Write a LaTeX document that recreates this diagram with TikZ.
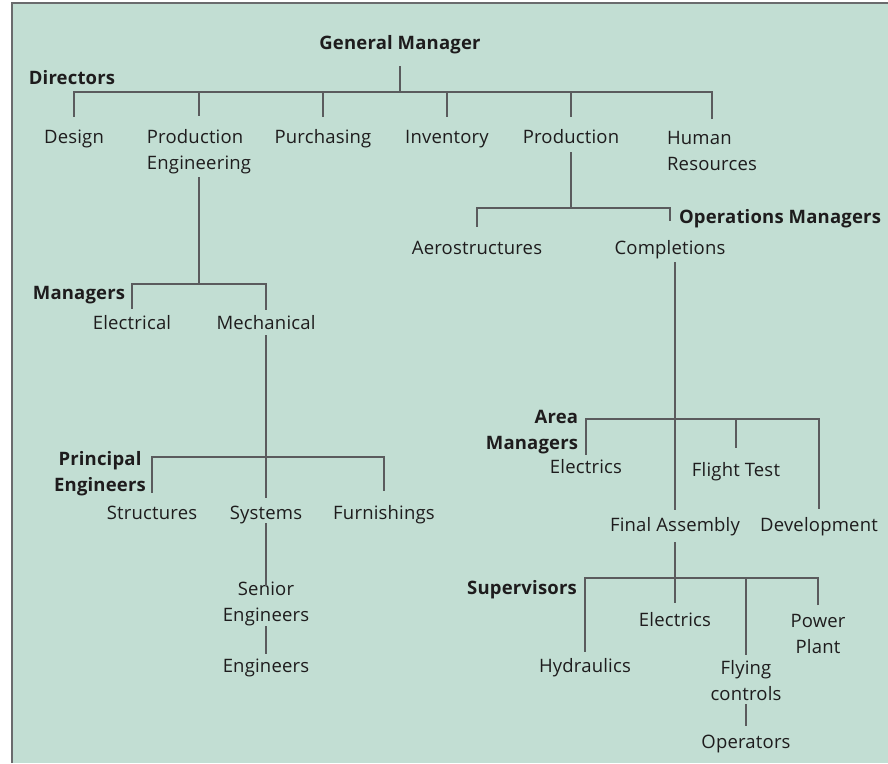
\documentclass[tikz,border=0pt]{standalone}
\usepackage{fontspec}
\setmainfont[LetterSpace=1]{Open Sans}
\usepackage{xcolor}
\usepackage{tikz}
\definecolor{panel}{HTML}{C2DED3}
\definecolor{rule}{HTML}{5A5B5D}
\definecolor{ink}{HTML}{1E1C1D}
\definecolor{frame}{HTML}{6A6B6D}

\begin{document}
\begin{tikzpicture}%
        [x=1pt, y=-1pt,
        post/.style={inner sep=0pt, text=ink, font=\fontsize{18.5}{26}\selectfont, text height=13pt, text depth=3.5pt},
        postm/.style={inner sep=0pt, text=ink, font=\fontsize{18.5}{26}\selectfont, align=#1},
        head/.style={post, font=\fontsize{18.5}{26}\selectfont\bfseries},
        headm/.style={postm=#1, font=\fontsize{18.5}{26}\selectfont\bfseries},
        wire/.style={draw=rule, line width=1.1pt}]
    %% Panel
    \useasboundingbox (0,0) rectangle (888,763);
    \fill[panel] (12,3) rectangle (888,763);
    \draw[frame, line width=2pt] (12,763) -- (12,3) -- (888,3);
    %%
    %% Directors
    %%
    \node[head] (gm) at (400,45) {General Manager};
    \node[head] (dirs) at (72,80) {Directors};
    \node[post] (design) at (74,139) {Design};
    \node[postm=left] (proeng) at (199,152) {Production\\Engineering};
    \node[post] (purch) at (323,139) {Purchasing};
    \node[post] (inv) at (447,139) {Inventory};
    \node[post] (prod) at (571,139) {Production};
    \node[postm=left] (hr) at (712,151) {Human\\Resources};
    \coordinate (dirbar) at (400,92);
    \draw[wire, shorten <=13pt] (gm.south) -- (dirbar);
    \draw[wire, shorten <=14pt] (design.north) |- (dirbar);
    \draw[wire, shorten <=14pt] (proeng.north) |- (dirbar);
    \draw[wire, shorten <=14pt] (purch.north) |- (dirbar);
    \draw[wire, shorten <=14pt] (inv.north) |- (dirbar);
    \draw[wire, shorten <=14pt] (prod.north) |- (dirbar);
    \draw[wire, shorten <=12pt] (hr.north) |- (dirbar);
    %%
    %% Operations managers
    %%
    \node[head] (opsm) at (780,219) {Operations Managers};
    \node[post] (aero) at (477,250) {Aerostructures};
    \node[post] (compl) at (670,250) {Completions};
    \coordinate (opsbar) at (571,208);
    \draw[wire, shorten <=5pt] (prod.south) -- (opsbar);
    \draw[wire, shorten <=15pt] (aero.north) |- (opsbar);
    \draw[wire, shorten <=21pt] (compl.north) |- (opsbar);
    %%
    %% Engineering managers
    %%
    \node[head] (mgrs) at (79,295) {Managers};
    \node[post] (elec) at (132,325) {Electrical};
    \node[post] (mech) at (266,325) {Mechanical};
    \coordinate (mgrbar) at (199,284);
    \draw[wire, shorten <=3pt] (proeng.south) -- (mgrbar);
    \draw[wire, shorten <=8pt] (elec.north) |- (mgrbar);
    \draw[wire, shorten <=7pt] (mech.north) |- (mgrbar);
    %%
    %% Principal engineers
    %%
    \node[headm=center] (peng) at (100,474) {Principal\\Engineers};
    \node[post] (struct) at (152,515) {Structures};
    \node[post] (syst) at (266,515) {Systems};
    \node[post] (furn) at (384,515) {Furnishings};
    \coordinate (pebar) at (266,457);
    \draw[wire, shorten <=2pt, shorten >=9pt] (mech.south) -- (syst.north);
    \draw[wire, shorten <=14pt] (struct.north) |- (pebar);
    \draw[wire, shorten <=16pt] (furn.north) |- (pebar);
    \node[postm=center] (senior) at (266,604) {Senior\\Engineers};
    \node[post] (eng) at (266,668) {Engineers};
    \draw[wire, shorten >=-4pt] (syst.south) -- (senior.north);
    \draw[wire, shorten >=6pt] (senior.south) -- (eng.north);
    %%
    %% Area managers
    %%
    \node[headm=right] (aream) at (532,432) {Area\\Managers};
    \node[post] (aelec) at (586,469) {Electrics};
    \node[post] (flight) at (736,472) {Flight Test};
    \node[post] (fa) at (675,527) {Final Assembly};
    \node[post] (dev) at (819,527) {Development};
    \coordinate (areabar) at (675,419);
    \draw[wire, shorten <=9pt, shorten >=4pt] (fa.north) -- (fa.north |- compl.south);
    \draw[wire, shorten <=6pt] (aelec.north) |- (areabar);
    \draw[wire, shorten <=16pt] (flight.north) |- (areabar);
    \draw[wire, shorten <=10pt] (dev.north) |- (areabar);
    %%
    %% Supervisors
    %%
    \node[head] (sups) at (522,590) {Supervisors};
    \node[post] (selec) at (675,622) {Electrics};
    \node[postm=center] (power) at (818,634) {Power\\Plant};
    \node[post] (hyd) at (585,668) {Hydraulics};
    \node[postm=center] (fly) at (746,681) {Flying\\controls};
    \node[post] (oper) at (746,744) {Operators};
    \coordinate (supbar) at (675,578);
    \draw[wire, shorten <=7pt, shorten >=11pt] (fa.south) -- (selec.north);
    \draw[wire, shorten <=8pt] (hyd.north) |- (supbar);
    \draw[wire, shorten <=6pt] (fly.north) |- (supbar);
    \draw[wire, shorten <=9pt] (power.north) |- (supbar);
    \draw[wire, shorten <=3pt, shorten >=10pt] (fly.south) -- (oper.north);
    \end{tikzpicture}
\end{document}
